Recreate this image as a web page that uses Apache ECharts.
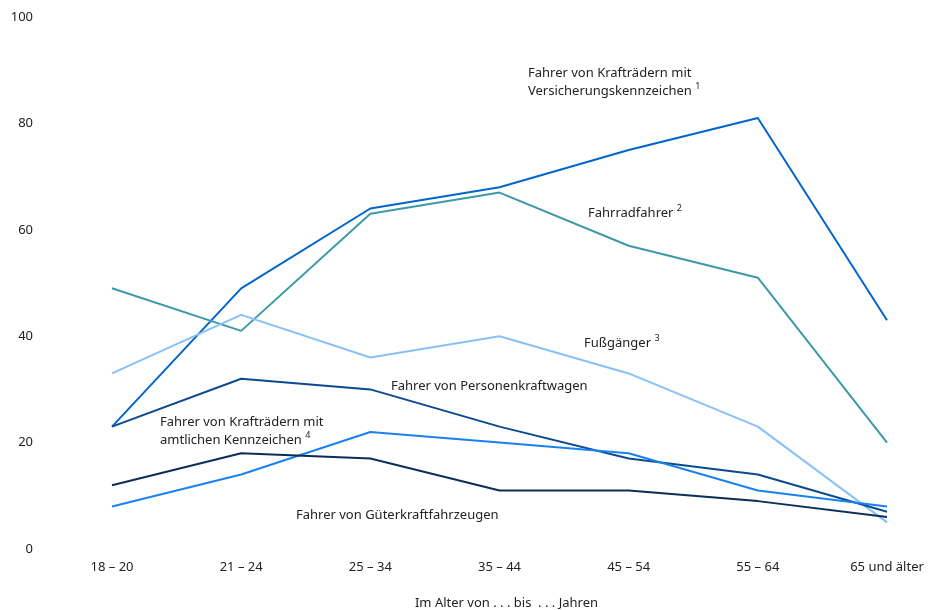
<!DOCTYPE html>
<html><head><meta charset="utf-8">
<script src="https://cdn.jsdelivr.net/npm/echarts@6/dist/echarts.min.js"></script>
<style>html,body{margin:0;padding:0;background:#fff}#c{width:928px;height:610px}</style>
</head><body><div id="c"></div>
<script>
var categories = ['18 – 20', '21 – 24', '25 – 34', '35 – 44', '45 – 54', '55 – 64', '65 und älter'];
var yTicks = [0, 20, 40, 60, 80, 100];
var versicherung = [23, 49, 64, 68, 75, 81, 43];
var fahrrad = [49, 41, 63, 67, 57, 51, 20];
var fussgaenger = [33, 44, 36, 40, 33, 23, 5];
var pkw = [23, 32, 30, 23, 17, 14, 7];
var amtlich = [8, 14, 22, 20, 18, 11, 8];
var gueter = [12, 18, 17, 11, 11, 9, 6];

var FONT = 'Noto Sans';
var chart = echarts.init(document.getElementById('c'), null, {renderer: 'canvas'});
function s(name, data, color) {
  return {name: name, type: 'line', data: data, symbol: 'none', smooth: false,
    lineStyle: {color: color, width: 2}, itemStyle: {color: color}, z: 2};
}
var rich = {sup: {fontSize: 9, verticalAlign: 'top', padding: [0, 0, 6, 0], fontFamily: FONT, color: '#222'}};
function lbl(x, y, text) {
  return {type: 'text', left: x, top: y, style: {text: text, fontFamily: FONT, fontSize: 13, fill: '#222', lineHeight: 18, rich: rich}};
}
chart.setOption({
  animation: false,
  grid: {left: 112, right: 41, top: 17, bottom: 61, containLabel: false, outerBoundsMode: 'none'},
  xAxis: {type: 'category', data: categories, boundaryGap: false,
    axisLine: {show: false}, axisTick: {show: false},
    axisLabel: {color: '#222', fontFamily: FONT, fontSize: 13, margin: 12},
    name: 'Im Alter von . . . bis  . . . Jahren', nameLocation: 'middle', nameGap: 48,
    nameTextStyle: {color: '#222', fontFamily: FONT, fontSize: 13, padding: [0, 0, 0, 14]}},
  yAxis: {type: 'value', min: 0, max: 100, interval: 20,
    axisLine: {show: false}, axisTick: {show: false}, splitLine: {show: false},
    axisLabel: {color: '#222', fontFamily: FONT, fontSize: 13, margin: 79}},
  series: [
    s('Versicherungskennzeichen', versicherung, '#0066cc'),
    s('Fahrradfahrer', fahrrad, '#3d98a8'),
    s('Fußgänger', fussgaenger, '#88c0f8'),
    s('Personenkraftwagen', pkw, '#0b4a90'),
    s('Amtliche Kennzeichen', amtlich, '#1a82f0'),
    s('Güterkraftfahrzeuge', gueter, '#0a2d5a')
  ],
  graphic: [
    lbl(528, 64, 'Fahrer von Krafträdern mit\nVersicherungskennzeichen {sup|1}'),
    lbl(588, 204, 'Fahrradfahrer {sup|2}'),
    lbl(584, 334, 'Fußgänger {sup|3}'),
    lbl(391, 377, 'Fahrer von Personenkraftwagen'),
    lbl(160, 413, 'Fahrer von Krafträdern mit\namtlichen Kennzeichen {sup|4}'),
    lbl(296, 506, 'Fahrer von Güterkraftfahrzeugen')
  ]
});
</script></body></html>
